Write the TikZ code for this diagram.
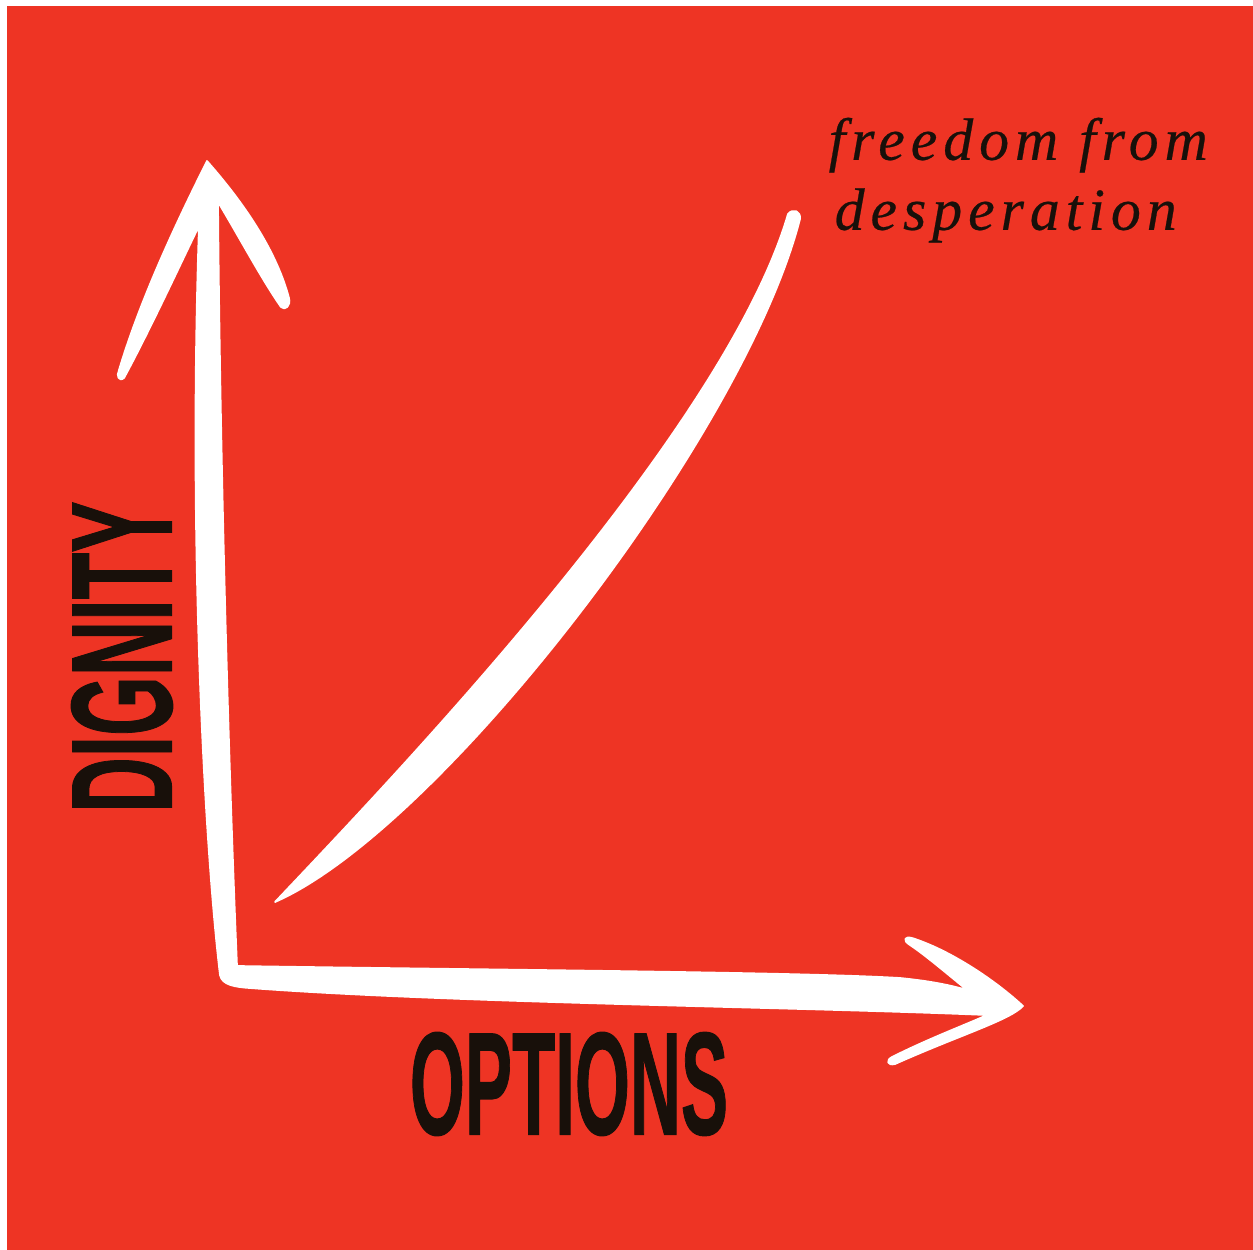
\documentclass[tikz,border=0pt]{standalone}
\usepackage{fontspec}
\usepackage{graphicx}
\newfontfamily\axisfont[BoldFeatures={FakeBold=1}]{Liberation Sans}
\newfontfamily\notefont[LetterSpace=10, FakeBold=0.4]{Liberation Serif}
\definecolor{posterred}{RGB}{238, 52, 36}
\definecolor{inkblack}{RGB}{24, 16, 10}
\tikzstyle{chalk} = [fill=white, draw=white, line width=0.5pt, line join=round]
\tikzstyle{axislabel} = [inner sep=0pt, text=inkblack]
\tikzstyle{note} = [inner sep=0pt, text=inkblack, align=left, font=\notefont\fontsize{17}{19.9}\selectfont\itshape]

\begin{document}
\begin{tikzpicture}[x=0.01cm, y=-0.01cm]
    % Poster background
    \useasboundingbox (0,0) rectangle (1253,1250);
    \fill[white] (0,0) rectangle (1253,1250);
    \fill[posterred] (7,6) rectangle (1253,1250);

    % Key points of the sketch
    \coordinate (ytip) at (207,161);
    \coordinate (xtip) at (1023,1006);
    \coordinate (curvestart) at (275,902);
    \coordinate (curveend) at (788,214);

    % Axes drawn as one brush stroke
    \fill[chalk] (ytip)
        .. controls (237,195) and (275,245) .. (289,298)
        .. controls (291,306) and (285,311) .. (281,307)
        .. controls (262,280) and (238,235) .. (218,202)
        .. controls (220,450) and (228,750) .. (237,966)
        .. controls (500,970) and (800,972) .. (900,978)
        .. controls (930,981) and (950,985) .. (967,990)
        .. controls (945,972) and (925,955) .. (910,945)
        .. controls (902,940) and (905,936) .. (912,938)
        .. controls (950,950) and (995,980) .. (xtip)
        .. controls (1010,1020) and (960,1035) .. (895,1064)
        .. controls (887,1066) and (886,1060) .. (892,1057)
        .. controls (930,1038) and (965,1025) .. (987,1015)
        .. controls (800,1007) and (450,1003) .. (250,988)
        .. controls (235,987) and (222,985) .. (220,975)
        .. controls (205,850) and (188,550) .. (199,226)
        .. controls (180,265) and (150,330) .. (124,378)
        .. controls (119,382) and (116,376) .. (119,370)
        .. controls (140,300) and (175,225) .. (ytip) -- cycle;

    % Rising curve
    \fill[chalk] (curvestart)
        .. controls (400,770) and (725,430) .. (curveend)
        .. controls (793,208) and (801,211) .. (800,219)
        .. controls (745,435) and (440,830) .. (curvestart) -- cycle;

    % Labels
    \node[axislabel, rotate=90] (dignity) at (122,657) {\resizebox{3.11cm}{1.0cm}{\axisfont\bfseries DIGNITY}};
    \node[axislabel] (options) at (569,1084) {\resizebox{3.18cm}{1.02cm}{\axisfont\bfseries OPTIONS}};
    \node[note, anchor=north west] (freedom) at (828,117) {freedom from\\\hspace{0.06cm}desperation};
\end{tikzpicture}
\end{document}
